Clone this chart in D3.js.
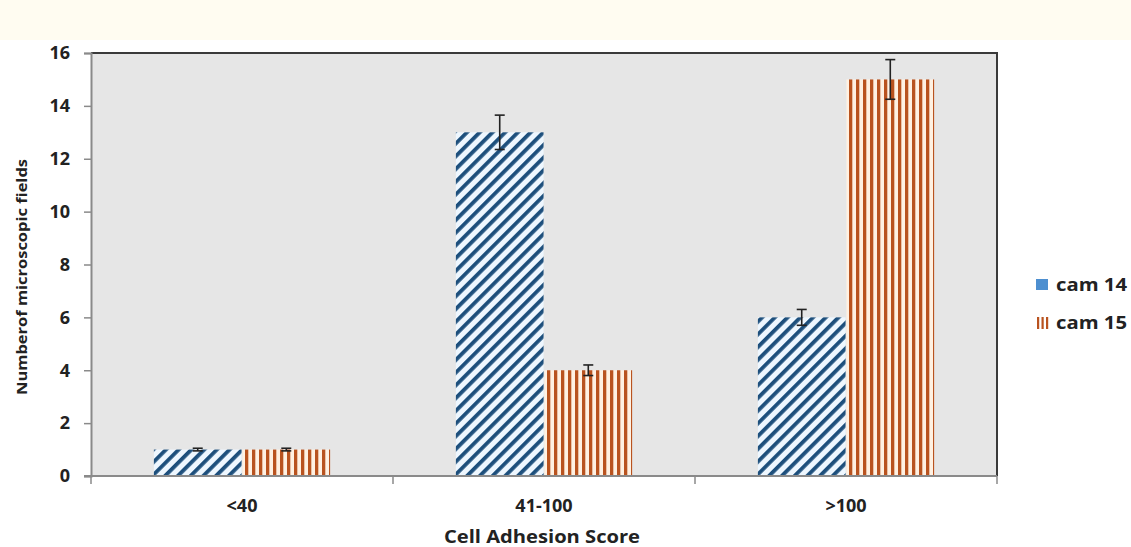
<!DOCTYPE html>
<html>
<head>
<meta charset="utf-8">
<script src="https://cdn.jsdelivr.net/npm/d3@7"></script>
<style>
  html, body { margin: 0; padding: 0; background: #ffffff; }
  svg { display: block; }
  text { font-family: "Open Sans", "Lato", sans-serif; font-weight: bold; fill: #222; }
</style>
</head>
<body>
<svg id="chart" width="1131" height="547"></svg>
<script>
// Cell adhesion score distribution, two strains
const categories = ["<40", "41-100", ">100"];
const seriesNames = ["cam 14", "cam 15"];
const cam14 = [1, 13, 6];
const cam14Err = [0.05, 0.65, 0.3];
const cam15 = [1, 4, 15];
const cam15Err = [0.05, 0.2, 0.75];
const yTicks = [0, 2, 4, 6, 8, 10, 12, 14, 16];

const svg = d3.select("#chart");
const W = 1131, H = 547;

// cream header band
svg.append("rect").attr("x", 0).attr("y", 0).attr("width", W).attr("height", 40).attr("fill", "#fffcf1");

const plotL = 91, plotR = 997, plotT = 53, plotB = 476;

const defs = svg.append("defs");
// diagonal hatching
const pDiag = defs.append("pattern").attr("id", "diag").attr("patternUnits", "userSpaceOnUse")
  .attr("width", 9).attr("height", 9).attr("patternTransform", "rotate(45)");
pDiag.append("rect").attr("width", 9).attr("height", 9).attr("fill", "#eef7ff");
pDiag.append("rect").attr("x", 0).attr("y", 0).attr("width", 3.8).attr("height", 9).attr("fill", "#1d4f7c");
// vertical stripes
const pVert = defs.append("pattern").attr("id", "vert").attr("patternUnits", "userSpaceOnUse")
  .attr("width", 7).attr("height", 7);
pVert.append("rect").attr("width", 7).attr("height", 7).attr("fill", "#fff1e2");
pVert.append("rect").attr("x", 0).attr("y", 0).attr("width", 3.3).attr("height", 7).attr("fill", "#b9531f");

const x0 = d3.scaleBand().domain(categories).range([plotL, plotR]).paddingInner(0).paddingOuter(0);
const x1 = d3.scaleBand().domain(seriesNames).range([0, x0.bandwidth()]).paddingInner(0.01).paddingOuter(0.71);
const y = d3.scaleLinear().domain([0, 16]).range([plotB, plotT]);

// plot area
svg.append("rect").attr("x", plotL).attr("y", plotT).attr("width", plotR - plotL).attr("height", plotB - plotT)
  .attr("fill", "#e6e6e6");
svg.append("path").attr("d", `M${plotL},${plotT}H${plotR}V${plotB}`).attr("fill", "none")
  .attr("stroke", "#3a3a3a").attr("stroke-width", 2);

const data = categories.map((c, i) => ({
  cat: c,
  vals: [
    { s: seriesNames[0], v: cam14[i], e: cam14Err[i], fill: "url(#diag)" },
    { s: seriesNames[1], v: cam15[i], e: cam15Err[i], fill: "url(#vert)" }
  ]
}));

const g = svg.append("g");
const groups = g.selectAll("g.cat").data(data).join("g").attr("class", "cat")
  .attr("transform", d => `translate(${x0(d.cat)},0)`);
groups.selectAll("rect").data(d => d.vals).join("rect")
  .attr("x", d => x1(d.s)).attr("width", x1.bandwidth())
  .attr("y", d => y(d.v)).attr("height", d => y(0) - y(d.v))
  .attr("fill", d => d.fill);

// error bars
const eb = groups.selectAll("g.err").data(d => d.vals).join("g").attr("class", "err")
  .attr("stroke", "#222").attr("stroke-width", 1.6);
const cx = d => x1(d.s) + x1.bandwidth() / 2;
eb.append("line")
  .attr("x1", cx).attr("x2", cx)
  .attr("y1", d => y(d.v + d.e)).attr("y2", d => y(d.v - d.e));
eb.append("line")
  .attr("x1", d => cx(d) - 5).attr("x2", d => cx(d) + 5)
  .attr("y1", d => y(d.v + d.e)).attr("y2", d => y(d.v + d.e));
eb.append("line")
  .attr("x1", d => cx(d) - 5).attr("x2", d => cx(d) + 5)
  .attr("y1", d => y(d.v - d.e)).attr("y2", d => y(d.v - d.e));

// y axis
const yAxis = svg.append("g").attr("transform", `translate(${plotL},0)`)
  .call(d3.axisLeft(y).tickValues(yTicks).tickSize(7).tickPadding(14));
yAxis.select(".domain").attr("stroke", "#8a8a8a").attr("stroke-width", 2);
yAxis.selectAll(".tick line").attr("stroke", "#8a8a8a").attr("stroke-width", 1.5);
yAxis.selectAll(".tick text").attr("font-size", 18).attr("fill", "#222")
  .attr("font-family", "'Open Sans', Lato, sans-serif").attr("font-weight", "bold");

// x axis
const xTickPos = categories.map(c => x0(c)).concat([plotR]);
const xAxis = svg.append("g").attr("transform", `translate(0,${plotB})`);
xAxis.append("line").attr("x1", plotL - 7).attr("x2", plotR).attr("y1", 0).attr("y2", 0)
  .attr("stroke", "#8a8a8a").attr("stroke-width", 2);
xAxis.selectAll("line.tk").data(xTickPos).join("line").attr("class", "tk")
  .attr("x1", d => d).attr("x2", d => d).attr("y1", 0).attr("y2", 8)
  .attr("stroke", "#8a8a8a").attr("stroke-width", 1.5);
xAxis.selectAll("text").data(categories).join("text")
  .attr("x", d => x0(d) + x0.bandwidth() / 2).attr("y", 36)
  .attr("text-anchor", "middle").attr("font-size", 18).text(d => d);

// axis titles
svg.append("text").attr("x", 542).attr("y", 543).attr("text-anchor", "middle")
  .attr("font-size", 18).attr("textLength", 196).attr("lengthAdjust", "spacingAndGlyphs")
  .text("Cell Adhesion Score");
svg.append("text").attr("transform", "translate(27,277) rotate(-90)").attr("text-anchor", "middle")
  .attr("font-size", 14).attr("textLength", 236).attr("lengthAdjust", "spacingAndGlyphs")
  .text("Numberof microscopic  fields");

// legend
const lg = svg.append("g");
lg.append("rect").attr("x", 1036).attr("y", 279).attr("width", 12).attr("height", 11).attr("fill", "#4d8fd0");
lg.append("text").attr("x", 1056).attr("y", 291).attr("font-size", 18).attr("textLength", 71)
  .attr("lengthAdjust", "spacingAndGlyphs").text(seriesNames[0]);
[0, 1, 2].forEach(i => {
  lg.append("rect").attr("x", 1037 + i * 4.5).attr("y", 317).attr("width", 2.2).attr("height", 12).attr("fill", "#b9531f");
});
lg.append("text").attr("x", 1056).attr("y", 329).attr("font-size", 18).attr("textLength", 71)
  .attr("lengthAdjust", "spacingAndGlyphs").text(seriesNames[1]);
</script>
</body>
</html>
